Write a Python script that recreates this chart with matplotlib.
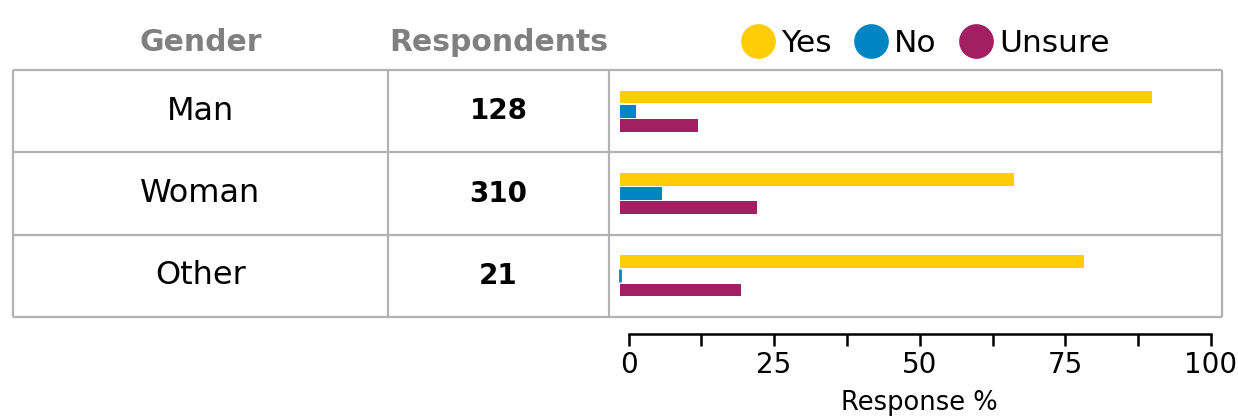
import matplotlib
matplotlib.use("Agg")
import matplotlib.pyplot as plt
from matplotlib.lines import Line2D
import numpy as np

# data
genders = ["Man", "Woman", "Other"]
respondents = [128, 310, 21]
answers = ["Yes", "No", "Unsure"]
yes_pct = [91.3, 67.7, 79.7]
no_pct = [2.9, 7.2, 0.0]
unsure_pct = [13.5, 23.5, 20.9]
ticks_major = [0, 25, 50, 75, 100]
ticks_minor = [12.5, 37.5, 62.5, 87.5]

colors = ["#ffcd05", "#0085c3", "#a31f63"]
grid_col = "#b2b2b2"
head_col = "#808080"

W, H = 1238, 417
plt.rcParams["font.family"] = ["DejaVu Sans"]
fig = plt.figure(figsize=(W / 100, H / 100), dpi=100)


def px_axes(x0, y0, x1, y1):
    return fig.add_axes([x0 / W, 1 - y1 / H, (x1 - x0) / W, (y1 - y0) / H])


# table frame (pixel layout)
left, c1, c2, right = 13, 388, 609, 1222
top, bottom = 70, 317
row_h = (bottom - top) / len(genders)

tab = px_axes(0, 0, W, H)
tab.set_xlim(0, W); tab.set_ylim(H, 0); tab.axis("off")
for i in range(len(genders) + 1):
    tab.hlines(top + i * row_h, left, right, color=grid_col, lw=1.6)
tab.vlines([left, c1, c2, right], top, bottom, color=grid_col, lw=1.6)

tab.text((left + c1) / 2, 42, "Gender", ha="center", va="center",
         fontsize=21.5, fontweight="bold", color=head_col)
tab.text((c1 + c2) / 2, 42, "Respondents", ha="center", va="center",
         fontsize=21.5, fontweight="bold", color=head_col)
for i, (g, n) in enumerate(zip(genders, respondents)):
    yc = top + (i + 0.5) * row_h
    tab.text((left + c1) / 2, yc, g, ha="center", va="center", fontsize=23)
    tab.text((c1 + c2) / 2, yc, str(n), ha="center", va="center",
             fontsize=20, fontweight="bold")

# bars
px_per_unit = 5.826
ax = px_axes(c2, top, right, bottom)
x0 = -10.6 / px_per_unit
ax.set_xlim(x0, x0 + (right - c2) / px_per_unit)
ax.set_ylim(len(genders), 0)
ax.axis("off")
ys = np.arange(len(genders)) + 0.5
pitch, bh = 0.1725, 0.154
for k, (vals, col) in enumerate(zip([yes_pct, no_pct, unsure_pct], colors)):
    vals = np.array(vals)
    ax.barh(ys + (k - 1) * pitch, vals, height=bh, color=col,
            edgecolor=col, linewidth=np.where(vals == 0, 2.0, 0.0))

# separate percentage axis under the table
tax = px_axes(628.5, 300, 1211, 334)
tax.set_xlim(0, 100)
tax.set_ylim(0, 1)
tax.patch.set_alpha(0)
for s in ["top", "left", "right"]:
    tax.spines[s].set_visible(False)
tax.spines["bottom"].set_linewidth(1.8)
tax.set_yticks([])
tax.set_xticks(ticks_major)
tax.set_xticks(ticks_minor, minor=True)
tax.tick_params(axis="x", which="both", length=8.5, width=1.8, direction="out")
tax.tick_params(axis="x", which="major", labelsize=20, pad=4)
tax.set_xlabel("Response %", fontsize=18.5, labelpad=8)

handles = [Line2D([], [], marker="o", ls="", markersize=25, color=c,
                  markeredgewidth=0) for c in colors]
fig.legend(handles, answers, loc="center", bbox_to_anchor=(926 / W, 1 - 43 / H),
           ncol=3, frameon=False, fontsize=22.5, handlelength=1.0,
           handletextpad=0.25, columnspacing=0.75, borderpad=0, borderaxespad=0)

fig.savefig("out.png", dpi=100)
